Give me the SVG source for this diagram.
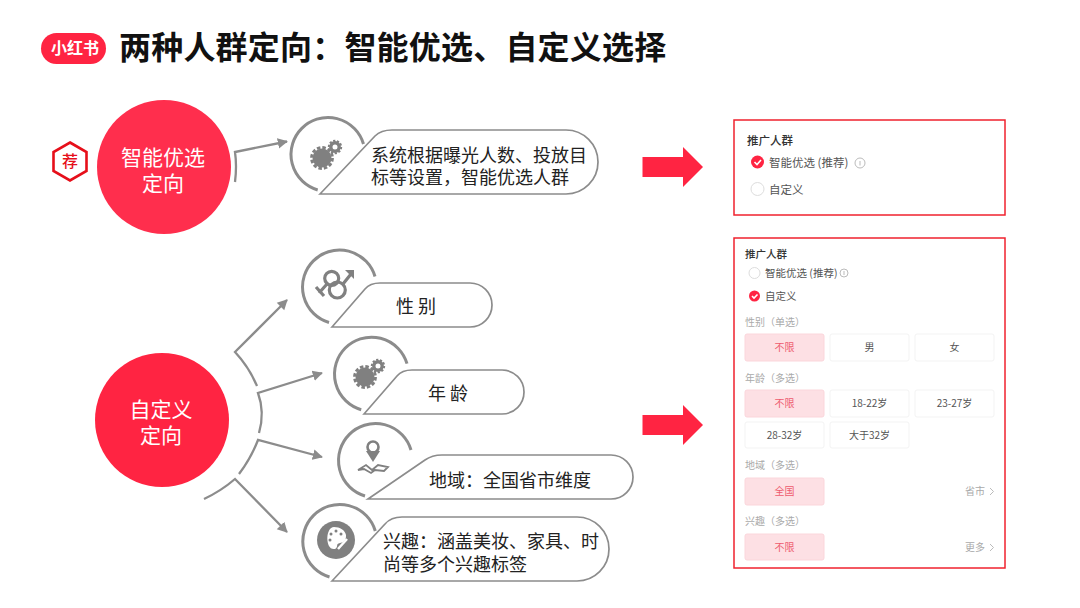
<svg xmlns="http://www.w3.org/2000/svg" width="1080" height="608" viewBox="0 0 1080 608">
<style>
text{font-family:"Noto Sans CJK SC","Noto Sans",sans-serif}
.t{font-size:18px;fill:#222}
.c{font-size:21px;fill:#fff;text-anchor:middle}
.pill{fill:#fff;stroke:#8c8c8c;stroke-width:1.700}
.ring{fill:none;stroke:#8c8c8c;stroke-width:3}
.ic{fill:none;stroke:#808080;stroke-width:3.200}
.con{fill:none;stroke:#8c8c8c;stroke-width:2.300}
.frame{fill:#fff;stroke:#f0222e;stroke-width:1.500}
.h{font-size:10.500px;fill:#333;font-weight:500}
.h1{font-size:11.500px;fill:#333;font-weight:500}
.o1{font-size:11.500px;fill:#555}
.o{font-size:10.500px;fill:#555}
.l{font-size:10px;fill:#aaa}
.b{fill:#fff;stroke:#f3f3f3;stroke-width:1}
.s{fill:#fde0e4;stroke:#fbd6db;stroke-width:1}
.bt{font-size:10px;fill:#555;text-anchor:middle}
.st{font-size:10px;fill:#ee5a6e;text-anchor:middle}
.m{font-size:10px;fill:#aaa}
.off{fill:#fff;stroke:#ddd;stroke-width:1}
.on{fill:#ff2442}
.ck{fill:none;stroke:#fff;stroke-width:1.600}
</style>
<defs>
<marker id="ah" markerWidth="6" markerHeight="6" refX="4" refY="3" orient="auto" markerUnits="strokeWidth"><path d="M0 0.7L4.400 3L0 5.300Z" fill="#8c8c8c"/></marker>
<g id="gear">
<circle cx="0" cy="0" r="9.500" fill="#808080"/>
<circle cx="0" cy="0" r="10.500" fill="none" stroke="#808080" stroke-width="2.800" stroke-dasharray="3.500 2"/>
<circle cx="13" cy="-11" r="4.200" fill="none" stroke="#808080" stroke-width="3.400"/>
<circle cx="13" cy="-11" r="6.200" fill="none" stroke="#808080" stroke-width="2" stroke-dasharray="2.200 1.600"/>
</g>
</defs>
<rect width="1080" height="608" fill="#fff"/>
<g id="logo">
<rect x="41" y="33" width="65" height="31" rx="15.500" fill="#ff2442"/>
<text x="75" y="54" font-size="16" font-weight="700" fill="#fff" text-anchor="middle">小红书</text>
</g>
<text id="title" x="119" y="58.500" font-size="32" font-weight="700" fill="#111" letter-spacing="0.200">两种人群定向：智能优选、自定义选择</text>
<g id="connectors">
<path class="con" d="M235 182Q237 166 235 152L287 141.500" marker-end="url(#ah)"/>
<path class="con" d="M257 386Q249 367 235 352L287 300" marker-end="url(#ah)"/>
<path class="con" d="M259 433Q265 412 258 393L322 373" marker-end="url(#ah)"/>
<path class="con" d="M239 474Q251 458 258 440L322 457" marker-end="url(#ah)"/>
<path class="con" d="M204 499Q221 491 235 479L287 532" marker-end="url(#ah)"/>
</g>
<g id="smart">
<circle cx="164" cy="167" r="67" fill="#ff2e4d"/>
<text class="c" x="163" y="165">智能优选<tspan x="163" dy="26">定向</tspan></text>
</g>
<g id="recommend">
<path d="M70 142.500L86.500 152V171L70 180.500L53.500 171V152Z" fill="#fff" stroke="#e60f1a" stroke-width="2.600"/>
<text x="70" y="167" font-size="16" font-weight="500" fill="#e60f1a" text-anchor="middle">荐</text>
</g>
<g id="custom">
<circle cx="162" cy="420" r="67" fill="#ff2442"/>
<text class="c" x="161" y="417">自定义<tspan x="161" dy="26">定向</tspan></text>
</g>
<g id="desc-smart">
<path class="ring" d="M363.500 144A37 37 0 1 0 317.700 190"/>
<use href="#gear" x="322" y="158"/>
<path class="pill" d="M320 194L375 136Q381 130 392 130H566A32 32 0 0 1 566 194Z"/>
<text class="t" x="371" y="162">系统根据曝光人数、投放目<tspan x="371" dy="22">标等设置，智能优选人群</tspan></text>
</g>
<g id="desc-gender">
<path class="ring" d="M375 276.500A37 37 0 1 0 329 322.500"/>
<g class="ic">
<circle cx="331.700" cy="278.300" r="7"/>
<circle cx="337.300" cy="290" r="8"/>
<path d="M327 284L319 293M316 287L324 296M343 284L351 274"/>
</g>
<path d="M345 270H354V279Z" fill="#808080"/>
<path class="pill" d="M332 327L365 289Q370 283 380 283H470A22 22 0 0 1 470 327Z"/>
<text class="t" x="416" y="313" text-anchor="middle" xml:space="preserve">性 别</text>
</g>
<g id="desc-age">
<path class="ring" d="M407 363.700A37 37 0 1 0 361.200 409.700"/>
<use href="#gear" x="365" y="377"/>
<path class="pill" d="M364 414L397 376Q402 370 412 370H502A22 22 0 0 1 502 414Z"/>
<text class="t" x="448" y="400" text-anchor="middle" xml:space="preserve">年 龄</text>
</g>
<g id="desc-region">
<path class="ring" d="M411 450A37 37 0 1 0 365 496"/>
<circle cx="373" cy="447" r="5.500" fill="none" stroke="#808080" stroke-width="2.600"/>
<path d="M373 462L366 451H380Z" fill="#808080"/>
<path d="M358 470L366 465L372 470L378 465L388 467L384 471L375 470L371 473L364 469Z" fill="none" stroke="#808080" stroke-width="1.800"/>
<path class="pill" d="M368 499L425 460Q432 455 442 455H611A22 22 0 0 1 611 499Z"/>
<text class="t" x="429" y="487">地域：全国省市维度</text>
</g>
<g id="desc-interest">
<path class="ring" d="M375.300 531A37 37 0 1 0 329.500 577"/>
<circle cx="336" cy="540" r="19" fill="#808080"/>
<path d="M334 527C325 527 325 551 335 549C339 547 335 544 340 543C346 542 346 538 346 535C345 530 340 527 334 527Z" fill="#fff"/>
<g fill="#808080"><circle cx="331" cy="534" r="1.500"/><circle cx="336" cy="531" r="1.500"/><circle cx="341" cy="534" r="1.500"/><circle cx="330" cy="540" r="1.500"/></g>
<path d="M338 549L347 539" stroke="#fff" stroke-width="2.500"/>
<path class="pill" d="M332 581L385 524Q391 517 402 517H577A32 32 0 0 1 577 581Z"/>
<text class="t" x="383" y="548">兴趣：涵盖美妆、家具、时<tspan x="383" dy="23">尚等多个兴趣标签</tspan></text>
</g>
<g id="arrow-1"><path d="M642.500 157H683V147L703 167L683 187V177H642.500Z" fill="#ff2442"/></g>
<g id="arrow-2"><path d="M642.500 415H683V405L703 425L683 445V435H642.500Z" fill="#ff2442"/></g>
<g id="panel-1">
<rect class="frame" x="734" y="120" width="271" height="95"/>
<text class="h1" x="747" y="144.500">推广人群</text>
<circle class="on" cx="757.500" cy="162" r="6.500"/>
<path class="ck" d="M754.500 162L757 164.500L761 160"/>
<text class="o1" x="769" y="167">智能优选 (推荐)</text>
<circle cx="860" cy="163" r="5" fill="none" stroke="#bbb"/>
<path d="M860 161V165.500" stroke="#bbb"/>
<circle class="off" cx="757.500" cy="189" r="6.500"/>
<text class="o1" x="769" y="193.500">自定义</text>
</g>
<g id="panel-2">
<rect class="frame" x="734" y="238" width="271" height="330"/>
<text class="h" x="745" y="257.500">推广人群</text>
<circle class="off" cx="754.500" cy="273" r="5.500"/>
<text class="o" x="765" y="277">智能优选 (推荐)</text>
<circle cx="844" cy="273" r="4" fill="none" stroke="#bbb"/>
<path d="M844 271V275" stroke="#bbb"/>
<circle class="on" cx="754.500" cy="296" r="5.500"/>
<path class="ck" d="M752 296L754 298L757.500 294.500"/>
<text class="o" x="765" y="300">自定义</text>
<text class="l" x="745" y="325.500">性别（单选）</text>
<rect class="s" x="745" y="334" width="79" height="27" rx="2"/><text class="st" x="784.500" y="351">不限</text>
<rect class="b" x="830" y="334" width="79" height="27" rx="2"/><text class="bt" x="869.500" y="351">男</text>
<rect class="b" x="915" y="334" width="79" height="27" rx="2"/><text class="bt" x="954.500" y="351">女</text>
<text class="l" x="745" y="381.500">年龄（多选）</text>
<rect class="s" x="745" y="390" width="79" height="27" rx="2"/><text class="st" x="784.500" y="407">不限</text>
<rect class="b" x="830" y="390" width="79" height="27" rx="2"/><text class="bt" x="869.500" y="407">18-22岁</text>
<rect class="b" x="915" y="390" width="79" height="27" rx="2"/><text class="bt" x="954.500" y="407">23-27岁</text>
<rect class="b" x="745" y="422" width="79" height="26" rx="2"/><text class="bt" x="784.500" y="439">28-32岁</text>
<rect class="b" x="830" y="422" width="79" height="26" rx="2"/><text class="bt" x="869.500" y="439">大于32岁</text>
<text class="l" x="745" y="469">地域（多选）</text>
<rect class="s" x="745" y="478" width="79" height="27" rx="2"/><text class="st" x="784.500" y="495">全国</text>
<text class="m" x="965" y="495">省市</text>
<path d="M990 488L993.500 491.500L990 495" fill="none" stroke="#bbb"/>
<text class="l" x="745" y="525">兴趣（多选）</text>
<rect class="s" x="745" y="534" width="79" height="26" rx="2"/><text class="st" x="784.500" y="551">不限</text>
<text class="m" x="965" y="551">更多</text>
<path d="M990 544L993.500 547.500L990 551" fill="none" stroke="#bbb"/>
</g>
</svg>
